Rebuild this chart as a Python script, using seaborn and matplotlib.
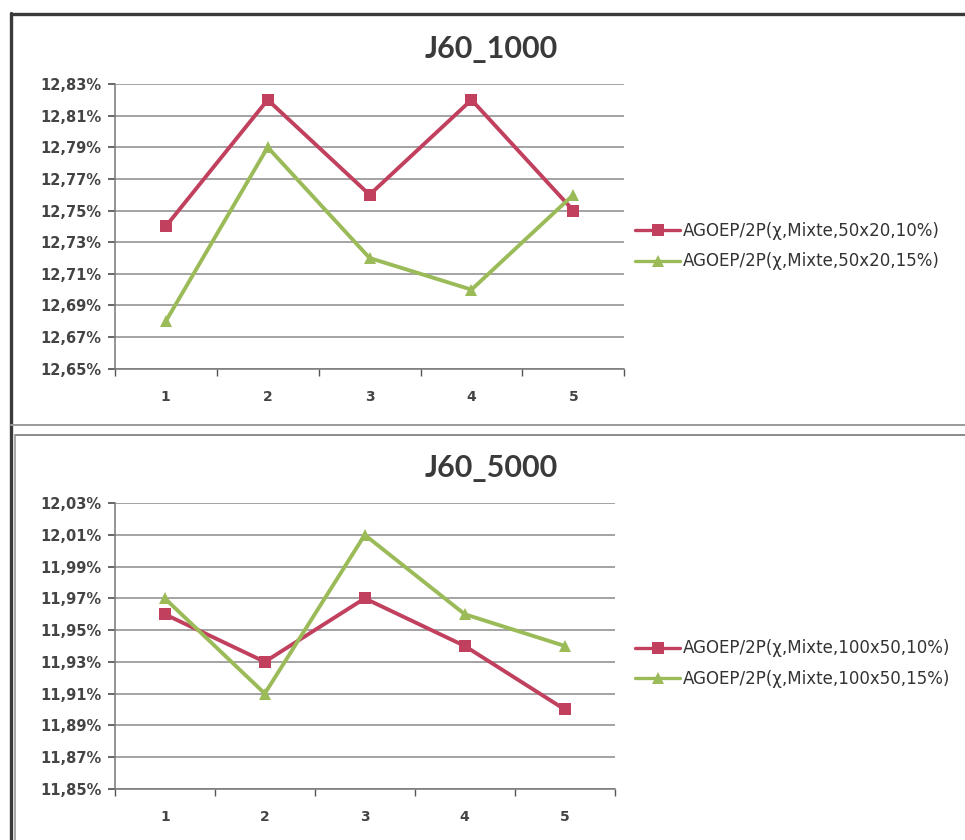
import matplotlib
matplotlib.use("Agg")
import matplotlib.pyplot as plt
import matplotlib.ticker as mticker
from matplotlib.lines import Line2D
import pandas as pd
import seaborn as sns

runs = [1, 2, 3, 4, 5]

top_title = "J60_1000"
top_labels = ["AGOEP/2P(χ,Mixte,50x20,10%)", "AGOEP/2P(χ,Mixte,50x20,15%)"]
top_red = [12.74, 12.82, 12.76, 12.82, 12.75]
top_green = [12.68, 12.79, 12.72, 12.70, 12.76]
top_yticks = [12.65, 12.67, 12.69, 12.71, 12.73, 12.75, 12.77, 12.79, 12.81, 12.83]

bot_title = "J60_5000"
bot_labels = ["AGOEP/2P(χ,Mixte,100x50,10%)", "AGOEP/2P(χ,Mixte,100x50,15%)"]
bot_red = [11.96, 11.93, 11.97, 11.94, 11.90]
bot_green = [11.97, 11.91, 12.01, 11.96, 11.94]
bot_yticks = [11.85, 11.87, 11.89, 11.91, 11.93, 11.95, 11.97, 11.99, 12.01, 12.03]

RED = "#C0405E"
GREEN = "#9BBB59"

sns.set_theme(style="white")
plt.rcParams["font.family"] = ["DejaVu Sans"]

W, H = 965, 840


def pct(v, _pos):
    return f"{v:.2f}".replace(".", ",") + "%"


def frame_line(fig, x0, y0, x1, y1, color, lw):
    # pixel coords (origin top-left) -> figure fraction
    fig.add_artist(Line2D([x0 / W, x1 / W], [1 - y0 / H, 1 - y1 / H],
                          transform=fig.transFigure, color=color, linewidth=lw))


def draw_chart(ax, title, labels, red, green, yticks, legend_y, fig):
    df = pd.DataFrame({
        "run": runs * 2,
        "value": red + green,
        "series": [labels[0]] * len(runs) + [labels[1]] * len(runs),
    })
    sns.lineplot(data=df, x="run", y="value", hue="series", style="series",
                 palette=[RED, GREEN], markers=["s", "^"], dashes=False,
                 markersize=9, linewidth=2.8, markeredgewidth=0, ax=ax,
                 legend=False)
    ax.set_xlim(0.5, 5.5)
    ax.set_ylim(yticks[0], yticks[-1])
    ax.set_yticks(yticks)
    ax.yaxis.set_major_formatter(mticker.FuncFormatter(pct))
    ax.set_xticks(runs)
    ax.set_xticks([0.5, 1.5, 2.5, 3.5, 4.5, 5.5], minor=True)
    ax.tick_params(axis="x", which="major", length=0, labelsize=10, pad=15, colors="#444444")
    ax.tick_params(axis="x", which="minor", length=5, direction="out", color="#555555", bottom=True)
    ax.tick_params(axis="y", length=5, direction="out", labelsize=10.5, color="#555555",
                   colors="#444444", left=True, pad=4.5)
    for lab in ax.get_xticklabels() + ax.get_yticklabels():
        lab.set_fontweight("bold")
    ax.grid(axis="y", color="#8a8a8a", linewidth=1.1)
    for side in ["top", "right"]:
        ax.spines[side].set_visible(False)
    for side in ["left", "bottom"]:
        ax.spines[side].set_color("#777777")
        ax.spines[side].set_linewidth(1.1)
    ax.set_xlabel("")
    ax.set_ylabel("")
    pos = ax.get_position()
    fig.text(0.509, pos.y1 + 0.042, title, ha="center", va="center",
             fontsize=22, fontweight="bold", color="#3a3a3a", family=["Lato", "DejaVu Sans"])
    handles = [
        Line2D([], [], color=RED, marker="s", markersize=8, linewidth=2.4, markeredgewidth=0),
        Line2D([], [], color=GREEN, marker="^", markersize=8, linewidth=2.4, markeredgewidth=0),
    ]
    fig.legend(handles, labels, loc="center left", bbox_to_anchor=(0.643, legend_y),
               frameon=False, fontsize=12, handlelength=2.7, handletextpad=0.15,
               labelspacing=0.75, labelcolor="#333333")


fig = plt.figure(figsize=(W / 100, H / 100), dpi=100)
fig.patch.set_facecolor("white")

# chart frames (scanned Excel chart borders)
frame_line(fig, 11, 14, 965, 14, "#3a3a3a", 2.4)
frame_line(fig, 11, 13, 11, 840, "#3a3a3a", 2.4)
frame_line(fig, 11, 425, 965, 425, "#9a9a9a", 1.4)
frame_line(fig, 15, 435, 965, 435, "#8a8a8a", 1.4)
frame_line(fig, 15, 435, 15, 840, "#9a9a9a", 1.2)

ax1 = fig.add_axes([0.119, 0.561, 0.528, 0.339])
draw_chart(ax1, top_title, top_labels, top_red, top_green, top_yticks, 0.707, fig)

ax2 = fig.add_axes([0.119, 0.061, 0.518, 0.340])
draw_chart(ax2, bot_title, bot_labels, bot_red, bot_green, bot_yticks, 0.210, fig)

fig.savefig("out.png", dpi=100)
